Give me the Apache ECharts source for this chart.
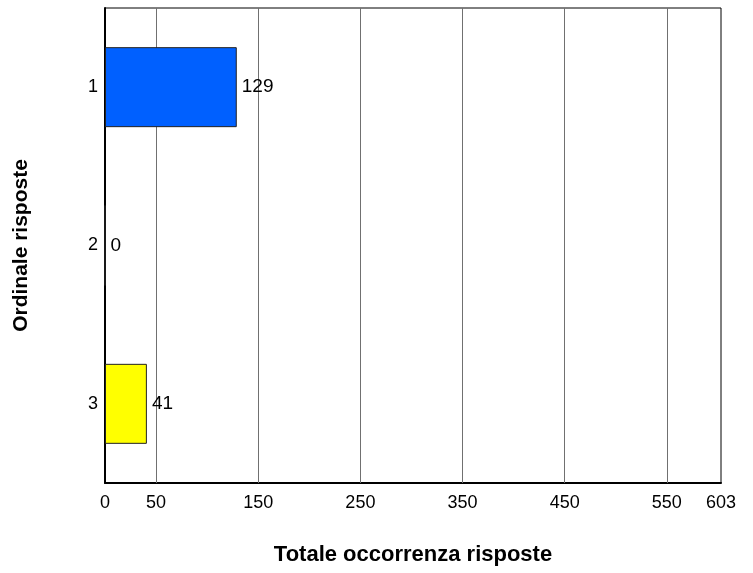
<!DOCTYPE html>
<html>
<head>
<meta charset="utf-8">
<script src="https://cdn.jsdelivr.net/npm/echarts@6/dist/echarts.min.js"></script>
<style>html,body{margin:0;padding:0;background:#fff;}#c{width:753px;height:573px;}</style>
</head>
<body>
<div id="c"></div>
<script>
const categories = ['1', '2', '3'];
const values = [129, 0, 41];
const barColors = ['#0060FF', '#0060FF', '#FFFF00'];
const xTickValues = [0, 50, 150, 250, 350, 450, 550, 603];
const gridValues = [50, 150, 250, 350, 450, 550];
const xMax = 603;

const font = 'Liberation Sans, Arial, sans-serif';
const chart = echarts.init(document.getElementById('c'), null, {renderer: 'canvas'});
chart.setOption({
  animation: false,
  backgroundColor: '#fff',
  grid: {left: 105, right: 32, top: 8, bottom: 90, show: true, borderColor: '#000', borderWidth: 1, backgroundColor: 'transparent'},
  xAxis: {
    type: 'value', min: 0, max: xMax,
    name: 'Totale occorrenza risposte', nameLocation: 'middle', nameGap: 61,
    nameTextStyle: {fontFamily: font, fontSize: 22, fontWeight: 'bold', color: '#000'},
    axisLine: {show: true, lineStyle: {color: '#000', width: 2}},
    axisTick: {show: false, customValues: xTickValues},
    splitLine: {show: false},
    axisLabel: {customValues: xTickValues, fontFamily: font, fontSize: 18, color: '#000', margin: 11}
  },
  yAxis: {
    type: 'category', data: categories, inverse: true,
    name: 'Ordinale risposte', nameLocation: 'middle', nameGap: 73, nameRotate: 90,
    nameTextStyle: {fontFamily: font, fontSize: 21, fontWeight: 'bold', color: '#000'},
    axisLine: {show: true, lineStyle: {color: '#000', width: 2}},
    axisTick: {show: false},
    splitLine: {show: false},
    axisLabel: {fontFamily: font, fontSize: 18, color: '#000', margin: 7}
  },
  series: [{
    type: 'bar',
    barWidth: 80,
    data: values.map((v, i) => ({value: v, itemStyle: {color: barColors[i]}})),
    itemStyle: {borderColor: '#222', borderWidth: 1},
    label: {show: true, position: 'right', distance: 5, fontFamily: font, fontSize: 19, color: '#000'},
    markLine: {
      silent: true, symbol: 'none', z: 1,
      label: {show: false},
      lineStyle: {color: '#707070', width: 1, type: 'solid'},
      emphasis: {disabled: true},
      data: gridValues.map(v => ({xAxis: v}))
    }
  }]
});
</script>
</body>
</html>
